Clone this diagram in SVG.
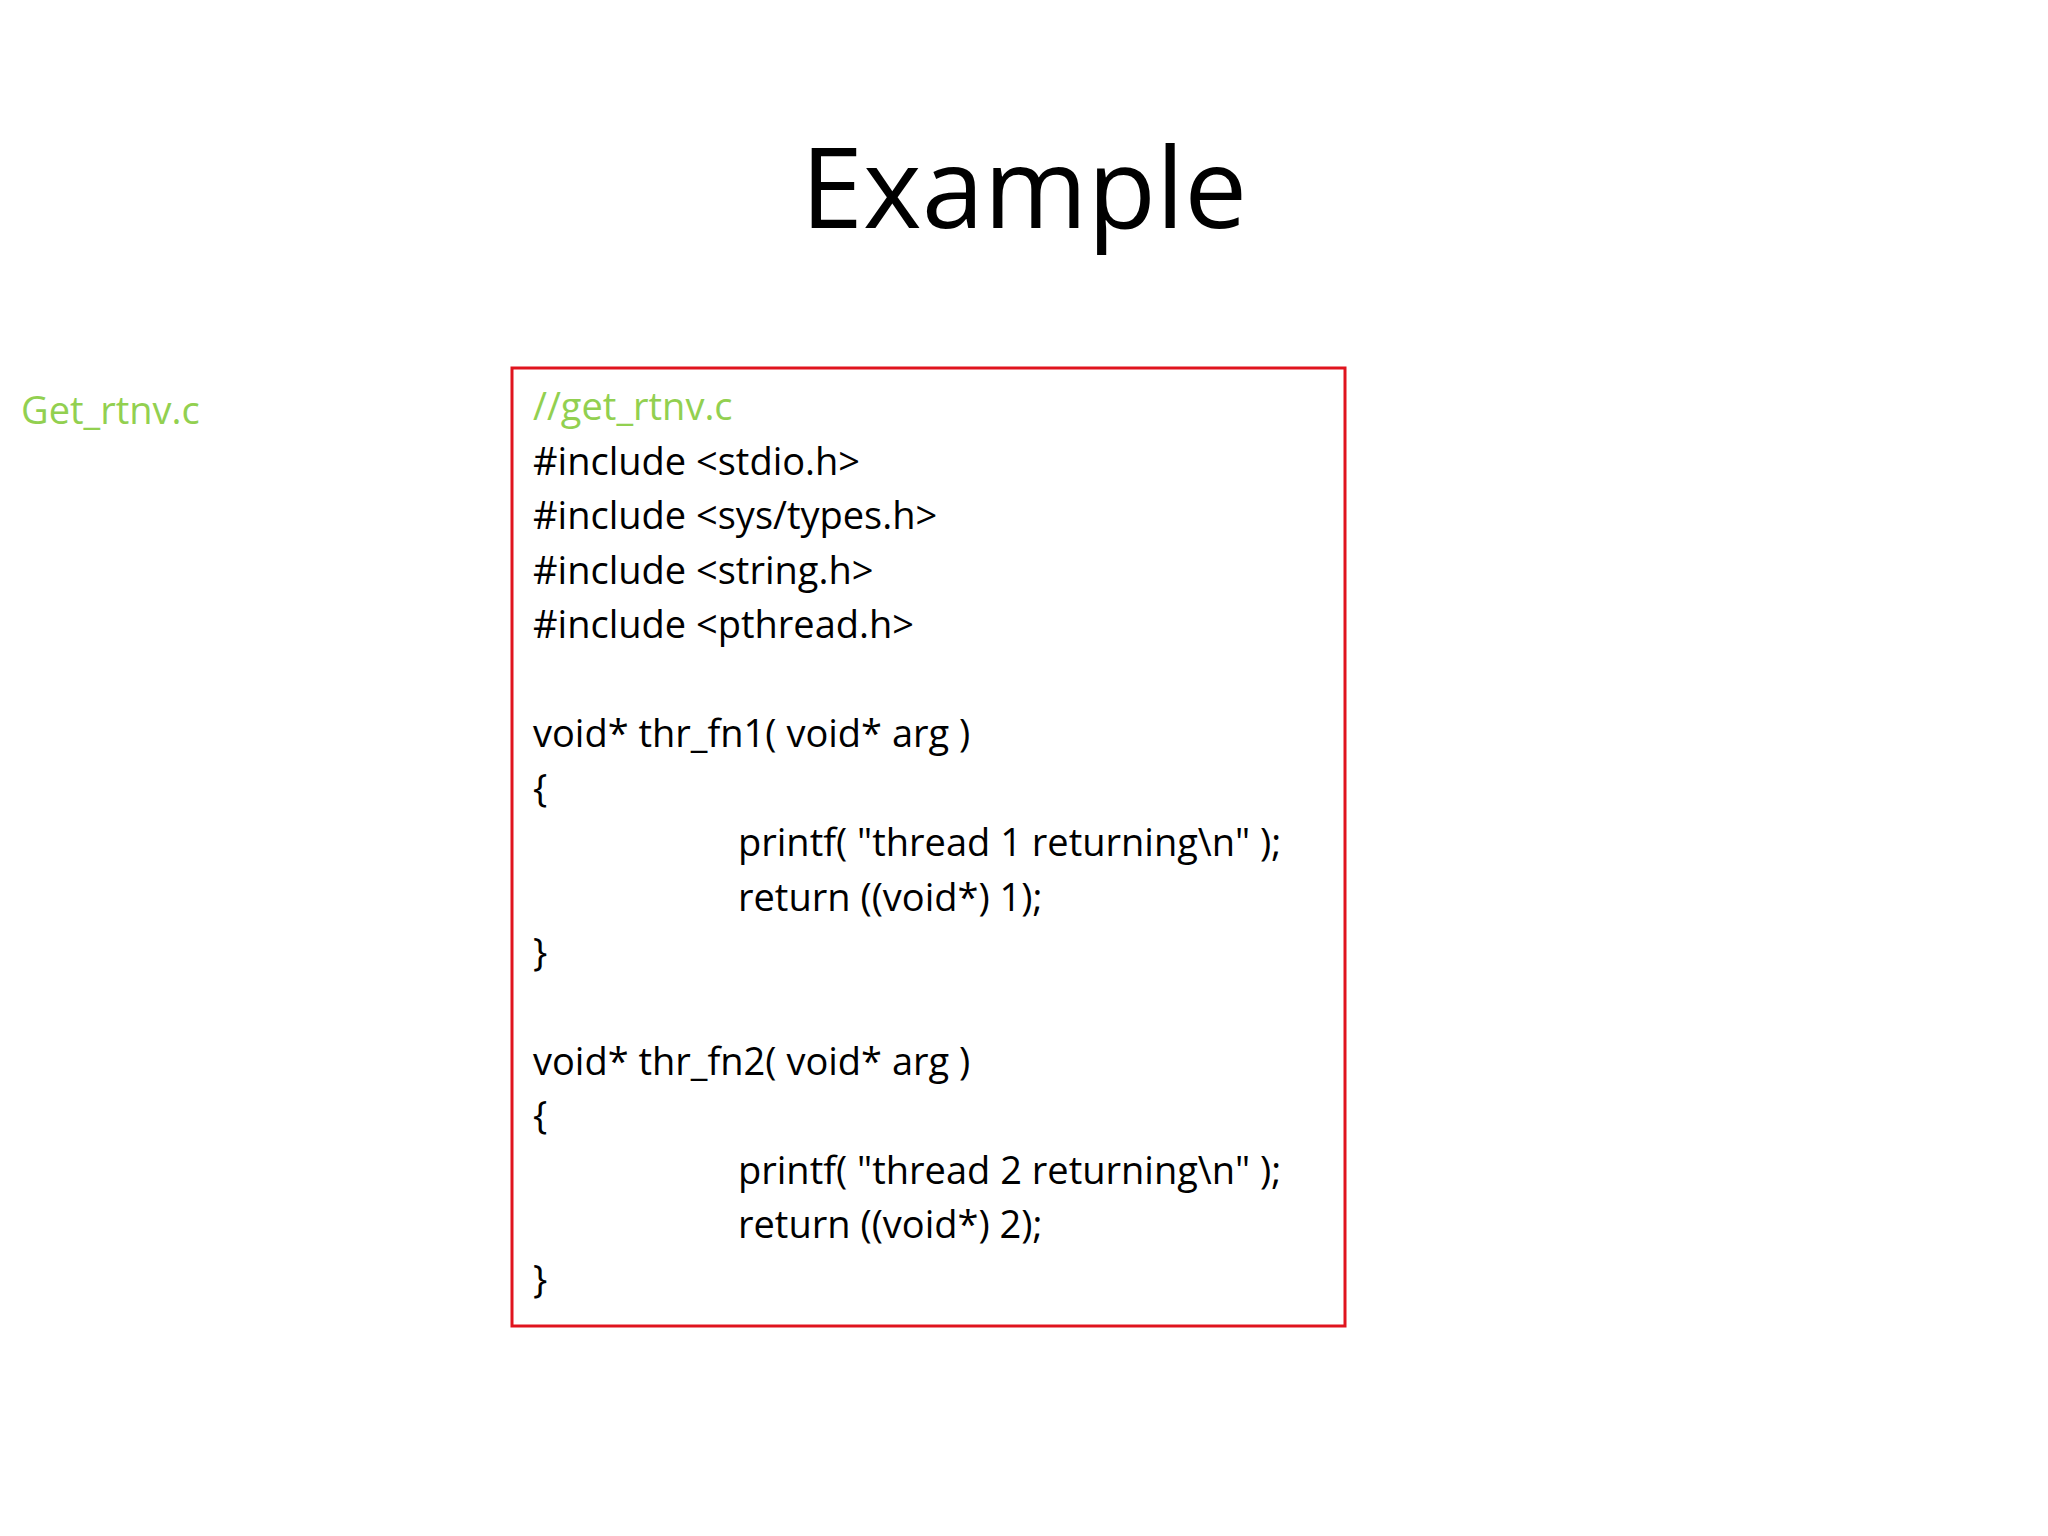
<svg xmlns="http://www.w3.org/2000/svg" width="2048" height="1536" viewBox="0 0 2048 1536">
<style>
.c{font-family:"Open Sans","Liberation Sans",sans-serif;font-size:38px;fill:#000}
.g{fill:#92d050}
</style>
<rect width="2048" height="1536" fill="#fff"/>
<g id="title"><text x="1024" y="228" text-anchor="middle" font-family="Open Sans, Liberation Sans, sans-serif" font-size="112" fill="#000">Example</text></g>
<g id="label"><text x="21" y="424" class="c g" font-size="43">Get_rtnv.c</text></g>
<g id="code">
<rect x="512" y="368" width="833" height="958" fill="none" stroke="#e0141e" stroke-width="3"/>
<text class="c g" x="533" y="420">//get_rtnv.c</text>
<text class="c" x="533" y="475">#include &lt;stdio.h&gt;</text>
<text class="c" x="533" y="529">#include &lt;sys/types.h&gt;</text>
<text class="c" x="533" y="584">#include &lt;string.h&gt;</text>
<text class="c" x="533" y="638">#include &lt;pthread.h&gt;</text>
<text class="c" x="533" y="747">void* thr_fn1( void* arg )</text>
<text class="c" x="533" y="802">{</text>
<text class="c" x="738" y="856">printf( "thread 1 returning\n" );</text>
<text class="c" x="738" y="911">return ((void*) 1);</text>
<text class="c" x="533" y="966">}</text>
<text class="c" x="533" y="1075">void* thr_fn2( void* arg )</text>
<text class="c" x="533" y="1129">{</text>
<text class="c" x="738" y="1184">printf( "thread 2 returning\n" );</text>
<text class="c" x="738" y="1238">return ((void*) 2);</text>
<text class="c" x="533" y="1293">}</text>
</g>
<g id="connectors"/>
</svg>
